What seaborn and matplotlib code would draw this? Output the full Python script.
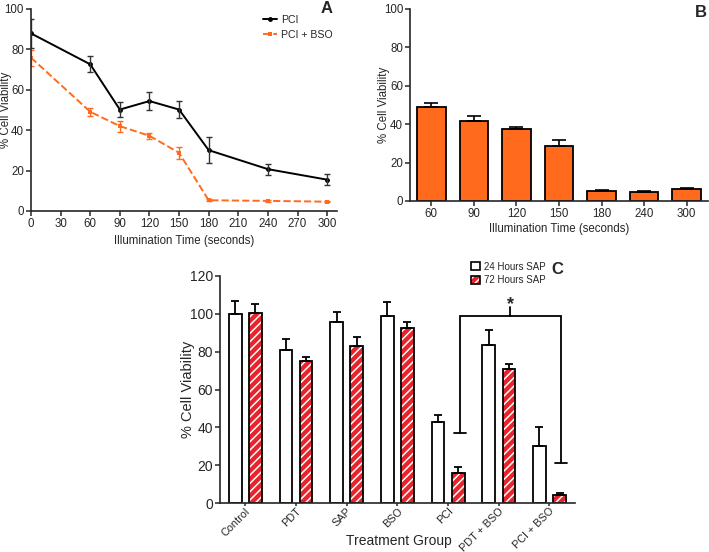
import numpy as np
import pandas as pd
import matplotlib
matplotlib.use("Agg")
import matplotlib.pyplot as plt
from matplotlib.patches import Patch, Rectangle
import seaborn as sns

# panel A: viability over illumination time
times = [0, 60, 90, 120, 150, 180, 240, 300]
pci = [87.9, 72.6, 50.2, 54.4, 50.2, 30.1, 20.7, 15.5]
pci_err = [7.0, 4.0, 3.5, 4.4, 4.0, 6.5, 2.7, 2.7]
pci_bso = [75.9, 49.1, 42.0, 37.2, 28.8, 5.3, 5.0, 4.6]
pci_bso_err = [4.0, 2.0, 2.7, 1.6, 3.0, 0.5, 0.4, 0.4]

# panel B: PCI + BSO bars
b_times = ["60", "90", "120", "150", "180", "240", "300"]
b_vals = [49.1, 41.8, 37.3, 28.8, 5.2, 4.9, 6.4]
b_err = [1.8, 2.5, 1.4, 2.8, 0.7, 0.5, 0.3]

# panel C: treatment groups
groups = ["Control", "PDT", "SAP", "BSO", "PCI", "PDT + BSO", "PCI + BSO"]
sap24 = [100.0, 80.8, 95.6, 98.6, 42.8, 83.4, 30.4]
sap24_err = [6.6, 5.6, 5.3, 7.5, 3.8, 8.2, 10.0]
sap72 = [100.3, 75.0, 82.9, 92.3, 15.8, 70.7, 4.2]
sap72_err = [4.9, 2.3, 4.9, 3.3, 3.3, 2.8, 1.2]

# significance bracket (PCI 72h vs PCI + BSO 72h)
bracket_top = 99
bracket_left_bottom = 37
bracket_right_bottom = 21

ORANGE = "#FF6A1C"
RED = "#E8232B"

sns.set_style("ticks")
plt.rcParams["font.family"] = ["Liberation Sans", "DejaVu Sans"]
plt.rcParams["hatch.linewidth"] = 1.1
plt.rcParams["axes.linewidth"] = 1.2
plt.rcParams["xtick.major.width"] = 1.1
plt.rcParams["ytick.major.width"] = 1.1
plt.rcParams["xtick.major.size"] = 3.5
plt.rcParams["ytick.major.size"] = 3.5

fig = plt.figure(figsize=(7.09, 5.52), dpi=100)
axA = fig.add_axes([0.0437, 0.6178, 0.4316, 0.366])
axB = fig.add_axes([0.5783, 0.6359, 0.4203, 0.3478])
axC = fig.add_axes([0.3103, 0.0882, 0.5003, 0.4123])

# ---- A ----
sns.lineplot(x=times, y=pci, color="black", marker="o", markersize=3.5,
             markeredgewidth=0, linewidth=1.4, label="PCI", ax=axA)
sns.lineplot(x=times, y=pci_bso, color=ORANGE, marker="s", markersize=3.5,
             markeredgewidth=0, linewidth=1.4, linestyle="--",
             label="PCI + BSO", ax=axA)
axA.errorbar(times, pci, yerr=pci_err, fmt="none", ecolor="#333333",
             elinewidth=1, capsize=2.5, capthick=1)
axA.errorbar(times, pci_bso, yerr=pci_bso_err, fmt="none", ecolor=ORANGE,
             elinewidth=1, capsize=2.5, capthick=1)
axA.set_xlim(0, 310)
axA.set_ylim(0, 100)
axA.set_xticks(range(0, 301, 30))
axA.set_yticks(range(0, 101, 20))
axA.set_xlabel("Illumination Time (seconds)", fontsize=8.3)
axA.set_ylabel("% Cell Viability", fontsize=8.3)
axA.yaxis.set_label_coords(-0.061, 0.5)
axA.tick_params(labelsize=8.3, pad=1.5)
axA.legend(loc="upper right", bbox_to_anchor=(1.0, 0.99), frameon=False,
           fontsize=7.6, handlelength=1.3, handletextpad=0.4,
           borderaxespad=0, labelspacing=0.45)
sns.despine(ax=axA)

# ---- B ----
sns.barplot(x=b_times, y=b_vals, order=b_times, color=ORANGE, saturation=1,
            width=0.67, edgecolor="black", linewidth=1.3, errorbar=None, ax=axB)
xb = [p.get_x() + p.get_width() / 2 for p in axB.patches]
axB.errorbar(xb, b_vals, yerr=[np.zeros(len(b_err)), b_err], fmt="none",
             ecolor="black", elinewidth=1.2, capsize=5, capthick=1.2)
axB.set_xlim(-0.5, 6.5)
axB.set_ylim(0, 100)
axB.set_yticks(range(0, 101, 20))
axB.set_xlabel("Illumination Time (seconds)", fontsize=8.3, labelpad=2)
axB.set_ylabel("% Cell Viability", fontsize=8.3)
axB.yaxis.set_label_coords(-0.066, 0.5)
axB.tick_params(labelsize=8.3, pad=1.5)
sns.despine(ax=axB)

# ---- C ----
dfC = pd.DataFrame({
    "group": groups * 2,
    "value": sap24 + sap72,
    "time": ["24 Hours SAP"] * len(groups) + ["72 Hours SAP"] * len(groups),
})
sns.barplot(data=dfC, x="group", y="value", hue="time", order=groups,
            palette=["white", RED], saturation=1, gap=0.375,
            edgecolor="black", linewidth=1.3, errorbar=None, legend=False,
            ax=axC)
c24, c72 = axC.containers[0], axC.containers[1]
for p in c72:
    p.set_edgecolor("white")
    p.set_linewidth(0)
    p.set_hatch("////")
    axC.add_patch(Rectangle(p.get_xy(), p.get_width(), p.get_height(),
                            fill=False, edgecolor="black", linewidth=1.3,
                            zorder=p.get_zorder() + 0.1))
x24 = [p.get_x() + p.get_width() / 2 for p in c24]
x72 = [p.get_x() + p.get_width() / 2 for p in c72]
axC.errorbar(x24, sap24, yerr=[np.zeros(7), sap24_err], fmt="none",
             ecolor="black", elinewidth=1.3, capsize=3, capthick=1.3)
axC.errorbar(x72, sap72, yerr=[np.zeros(7), sap72_err], fmt="none",
             ecolor="black", elinewidth=1.3, capsize=3, capthick=1.3)

# bracket
xl, xr = x72[4] + 0.03, x72[6] + 0.03
tick = 0.12
axC.plot([xl, xl, xr, xr], [bracket_left_bottom, bracket_top, bracket_top,
         bracket_right_bottom], color="black", lw=1.3, solid_joinstyle="miter")
axC.plot([xl - tick, xl + tick], [bracket_left_bottom] * 2, color="black", lw=1.3)
axC.plot([xr - tick, xr + tick], [bracket_right_bottom] * 2, color="black", lw=1.3)
xm = (xl + xr) / 2
axC.plot([xm, xm], [bracket_top, bracket_top + 4.5], color="black", lw=1.3)
axC.text(xm, bracket_top + 6, "*", ha="center", va="center",
         fontsize=13, fontweight="bold")

axC.set_xlim(-0.5, 6.5)
axC.set_ylim(0, 120)
axC.set_yticks(range(0, 121, 20))
axC.set_xlabel("Treatment Group", fontsize=10)
axC.xaxis.set_label_coords(0.503, -0.133)
axC.set_ylabel("% Cell Viability", fontsize=10.5)
axC.yaxis.set_label_coords(-0.07, 0.5)
axC.tick_params(axis="y", labelsize=10, pad=1.5)
axC.tick_params(axis="x", labelsize=7.8, pad=0, length=2)
for lab in axC.get_xticklabels():
    lab.set_rotation(45)
    lab.set_ha("right")
    lab.set_rotation_mode("anchor")
sns.despine(ax=axC)

h24 = Patch(facecolor="white", edgecolor="black", linewidth=1.2)
h72 = (Patch(facecolor=RED, edgecolor="white", linewidth=0, hatch="////"),
       Patch(facecolor="none", edgecolor="black", linewidth=1.2))
fig.legend([h24, h72], ["24 Hours SAP", "72 Hours SAP"],
           loc="upper left", bbox_to_anchor=(0.664, 0.526), frameon=False,
           fontsize=7, handlelength=1.0, handleheight=0.9, handletextpad=0.4,
           borderpad=0, borderaxespad=0, labelspacing=0.35)

fig.text(0.4605, 0.9855, "A", ha="center", va="center", fontsize=12,
         fontweight="bold")
fig.text(0.9887, 0.978, "B", ha="center", va="center", fontsize=12,
         fontweight="bold")
fig.text(0.7856, 0.511, "C", ha="center", va="center", fontsize=12,
         fontweight="bold")

fig.savefig("out.png", dpi=100)
